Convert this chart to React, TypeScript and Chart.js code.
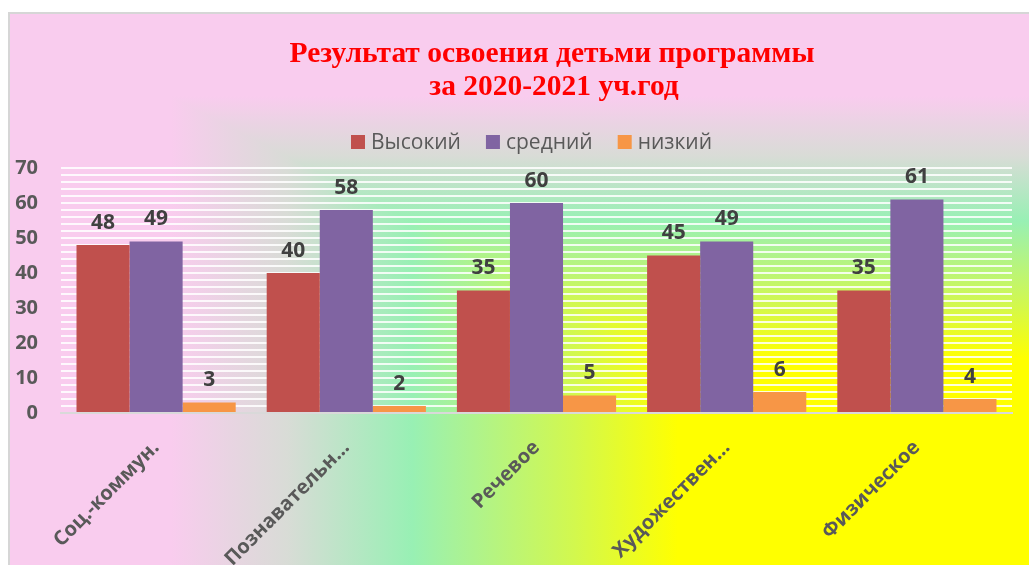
import React, { useEffect, useRef } from "react";
import { Chart, registerables } from "chart.js";

Chart.register(...registerables);

const categories = ["Соц.-коммун.", "Познавательн…", "Речевое", "Художествен…", "Физическое"];
const seriesNames = ["Высокий", "средний", "низкий"];
const highValues = [48, 40, 35, 45, 35];
const midValues = [49, 58, 60, 49, 61];
const lowValues = [3, 2, 5, 6, 4];
const yLabelValues = [0, 10, 20, 30, 40, 50, 60, 70];
const titleLines = ["Результат освоения детьми программы", "за 2020-2021 уч.год"];
const seriesColors = ["#c0504d", "#8064a2", "#f79646"];

const W = 1030;
const H = 560;

const bgPlugin = {
  id: "bgPlugin",
  beforeDraw(chart: any) {
    const { ctx } = chart;
    const w = chart.width;
    const h = chart.height;
    const stops: [number, string][] = [
      [0, "#f9ccee"],
      [163, "#f9ccee"],
      [280, "#d8dcd6"],
      [404, "#98f0b4"],
      [566, "#d2f84e"],
      [670, "#ffff00"],
    ];
    const slope = 528 / 1021;
    ctx.save();
    const vg = ctx.createLinearGradient(0, 0, 0, h);
    stops.forEach(([p, c]) => vg.addColorStop(Math.min(1, (p * slope) / h), c));
    vg.addColorStop(1, "#ffff00");
    ctx.fillStyle = vg;
    ctx.fillRect(0, 0, w, h);
    const hg = ctx.createLinearGradient(0, 0, w, 0);
    stops.forEach(([p, c]) => hg.addColorStop(p / w, c));
    hg.addColorStop(1, "#ffff00");
    ctx.beginPath();
    ctx.moveTo(0, 0);
    ctx.lineTo(w, w * slope);
    ctx.lineTo(w, h);
    ctx.lineTo(0, h);
    ctx.closePath();
    ctx.fillStyle = hg;
    ctx.fill();
    ctx.fillStyle = "#d6d6d6";
    ctx.fillRect(0, 0, w, 2);
    ctx.fillRect(0, 0, 2, h);
    ctx.restore();
  },
  afterDraw(chart: any) {
    const { ctx } = chart;
    ctx.save();
    ctx.fillStyle = "#ff0000";
    ctx.font = "bold 29.5px 'Liberation Serif'";
    ctx.textAlign = "center";
    ctx.textBaseline = "middle";
    ctx.fillText(titleLines[0], 544, 42);
    ctx.fillText(titleLines[1], 546, 75);
    ctx.font = "21px 'Open Sans'";
    ctx.textAlign = "left";
    let x = 343;
    const y = 130;
    seriesNames.forEach((name, i) => {
      ctx.fillStyle = seriesColors[i];
      ctx.fillRect(x, y - 7, 14, 14);
      ctx.fillStyle = "#595959";
      ctx.fillText(name, x + 20, y + 1);
      x += 20 + ctx.measureText(name).width + 25;
    });
    ctx.restore();
  },
};

const labelPlugin = {
  id: "labelPlugin",
  afterDatasetsDraw(chart: any) {
    const { ctx } = chart;
    ctx.save();
    ctx.font = "bold 21px 'Open Sans'";
    ctx.fillStyle = "#404040";
    ctx.textAlign = "center";
    ctx.textBaseline = "middle";
    chart.data.datasets.forEach((ds: any, di: number) => {
      const meta = chart.getDatasetMeta(di);
      meta.data.forEach((el: any, i: number) => {
        ctx.fillText(String(ds.data[i]), el.x, el.y - 22);
      });
    });
    ctx.restore();
  },
};

export default function App() {
  const ref = useRef<HTMLCanvasElement | null>(null);
  useEffect(() => {
    if (!ref.current) return;
    const chart = new Chart(ref.current, {
      type: "bar",
      data: {
        labels: categories,
        datasets: [
          { label: seriesNames[0], data: highValues, backgroundColor: seriesColors[0] },
          { label: seriesNames[1], data: midValues, backgroundColor: seriesColors[1] },
          { label: seriesNames[2], data: lowValues, backgroundColor: seriesColors[2] },
        ],
      },
      options: {
        responsive: false,
        animation: false,
        datasets: { bar: { categoryPercentage: 0.837, barPercentage: 1 } },
        layout: { padding: { left: 5, top: 156, right: 26, bottom: 0 } },
        plugins: { legend: { display: false }, title: { display: false }, tooltip: { enabled: false } },
        scales: {
          x: {
            grid: { display: false },
            border: { display: true, color: "#d9d9d9", width: 2 },
            ticks: {
              color: "#595959",
              font: { family: "'Open Sans'", size: 20, weight: "bold" },
              minRotation: 45,
              maxRotation: 45,
              padding: 15,
              autoSkip: false,
            },
            afterFit(scale: any) {
              scale.height = 159;
            },
          },
          y: {
            min: 0,
            max: 70,
            border: { display: false },
            grid: {
              drawTicks: false,
              color: (c: any) => (c.tick && c.tick.value === 0 ? "rgba(0,0,0,0)" : "rgba(255,255,255,0.85)"),
              lineWidth: 2,
            },
            ticks: {
              stepSize: 2,
              autoSkip: false,
              padding: 23,
              color: "#595959",
              font: { family: "'Open Sans'", size: 20, weight: "bold" },
              callback: (v: any) => (yLabelValues.includes(Number(v)) ? String(v) : ""),
            },
            afterFit(scale: any) {
              scale.width = 48;
            },
          },
        },
      },
      plugins: [bgPlugin, labelPlugin],
    } as any);
    return () => chart.destroy();
  }, []);
  return (
    <div style={{ position: "fixed", left: 0, top: 0, right: 0, bottom: 0, overflow: "hidden", background: "#fff" }}>
      <canvas
        ref={ref}
        width={W}
        height={H}
        style={{ position: "absolute", left: 8, top: 12, width: W, height: H }}
      />
    </div>
  );
}
